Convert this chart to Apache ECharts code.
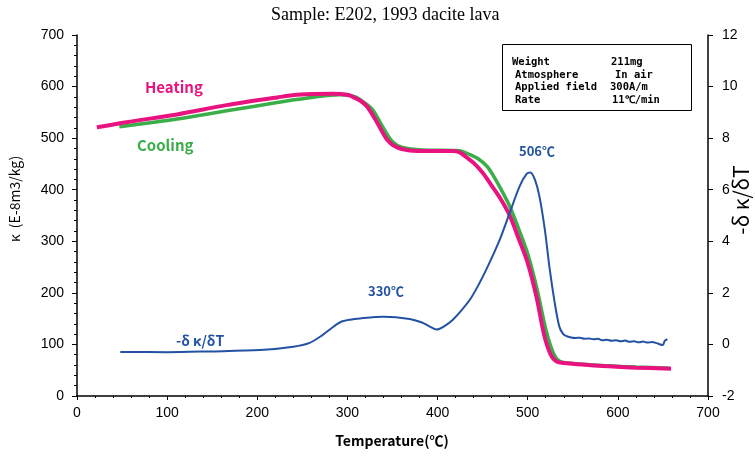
<!DOCTYPE html>
<html><head><meta charset="utf-8">
<script src="https://cdn.jsdelivr.net/npm/echarts@6/dist/echarts.min.js"></script>
<style>html,body{margin:0;padding:0;background:#fff}#c{width:755px;height:456px}</style>
</head><body><div id="c"></div>
<script>
var heatingT = [22,55,111,166,222,244,284,300,306,314,322,333,344,355,369,391,417,425,432,440,450,460,470,480,490,500,510,518,525,532,547,583,620,659];
var heatingK = [521,531,546,564,579,584,586,584,580,573,561,530,497,482,476,475,475,472,463,452,433,408,382,350,305,258,190,120,82,67,63,58,55,53];
var coolingT = [47,111,166,222,244,292,302,310,318,328,339,350,361,383,421,428,436,445,455,462,470,480,490,500,510,520,528,535,550,585,620,658];
var coolingK = [522,537,553,569,575,584,583,579,570,555,522,493,482,477,476,474,468,460,445,427,402,368,324,276,210,130,85,68,63,59,56,54];
var dkdtT = [48,100,147,203,240,258,273,282,292,303,314,340,369,382,391,399,408,417,426,436,445,454,462,469,480,491,499,503,508,513,519,524,530,535,539,543,548,553,558,563,568,573,578,583,588,593,598,603,608,613,618,623,628,633,638,643,647,650,652,655];
var dkdtV = [-0.29,-0.30,-0.27,-0.22,-0.09,0.06,0.38,0.62,0.86,0.96,1.01,1.07,0.99,0.86,0.70,0.58,0.72,0.96,1.30,1.74,2.28,2.90,3.50,4.06,5.10,6.13,6.62,6.67,6.39,5.74,4.45,3.03,1.61,0.70,0.42,0.32,0.27,0.25,0.26,0.22,0.23,0.20,0.22,0.16,0.18,0.14,0.16,0.12,0.15,0.10,0.12,0.08,0.11,0.07,0.09,0.05,0.00,-0.02,0.14,0.20];
var xTicks = [0,700,100];
var leftTicks = [0,700,100];
var rightTicks = [-2,12,2];

function zip(a,b){return a.map(function(v,i){return [v,b[i]];});}
var chart = echarts.init(document.getElementById('c'), null, {renderer:'canvas'});
var axisLbl = {color:'#000', fontFamily:'Liberation Sans', fontSize:14};
var gothic = '"Noto Sans CJK JP", "DejaVu Sans", sans-serif';
var infoStyle = {fill:'#000', font:'bold 10.5px "DejaVu Sans Mono", monospace'};
chart.setOption({
  animation:false,
  backgroundColor:'#fff',
  grid:{left:77, right:47, top:35, bottom:60},
  xAxis:{type:'value', min:xTicks[0], max:xTicks[1], interval:xTicks[2],
    axisLine:{lineStyle:{color:'#000',width:1.5}},
    axisTick:{inside:false,length:4,lineStyle:{color:'#000'}},
    minorTick:{show:true,splitNumber:5,length:2,lineStyle:{color:'#000'}},
    splitLine:{show:false}, axisLabel:Object.assign({margin:10},axisLbl)},
  yAxis:[
    {type:'value', min:leftTicks[0], max:leftTicks[1], interval:leftTicks[2], position:'left',
      axisLine:{show:true,lineStyle:{color:'#000',width:1.5}},
      axisTick:{show:true,length:5,lineStyle:{color:'#000'}},
      minorTick:{show:true,splitNumber:5,length:3,lineStyle:{color:'#000'}},
      splitLine:{show:false}, axisLabel:Object.assign({margin:13},axisLbl)},
    {type:'value', min:rightTicks[0], max:rightTicks[1], interval:rightTicks[2], position:'right',
      axisLine:{show:true,lineStyle:{color:'#000',width:1.5}},
      axisTick:{show:true,length:5,lineStyle:{color:'#000'}},
      splitLine:{show:false}, axisLabel:Object.assign({margin:14},axisLbl)}
  ],
  series:[
    {name:'Cooling', type:'line', yAxisIndex:0, showSymbol:false, smooth:0.3, data:zip(coolingT,coolingK),
      lineStyle:{color:'#3aae48', width:3.5}, z:2},
    {name:'Heating', type:'line', yAxisIndex:0, showSymbol:false, smooth:0.3, data:zip(heatingT,heatingK),
      lineStyle:{color:'#e8137f', width:4}, z:3},
    {name:'dkdT', type:'line', yAxisIndex:1, showSymbol:false, smooth:0.3, data:zip(dkdtT,dkdtV),
      lineStyle:{color:'#2352a3', width:2}, z:4}
  ],
  graphic:[
    {type:'text', left:271, top:6, style:{text:'Sample: E202, 1993 dacite lava', fill:'#000', font:'18px "Liberation Serif", serif'}},
    {type:'text', x:392, y:434, style:{text:'Temperature(℃)', fill:'#000', font:'bold 14px ' + gothic, textAlign:'center'}},
    {type:'text', x:15, y:199, rotation:Math.PI/2, style:{text:'κ  (E-8m3/kg)', fill:'#000', font:'14px ' + gothic, textAlign:'center', textVerticalAlign:'middle'}},
    {type:'text', x:741, y:200, rotation:Math.PI/2, style:{text:'-δ κ/δT', fill:'#000', font:'21px ' + gothic, textAlign:'center', textVerticalAlign:'middle'}},
    {type:'text', x:145, y:80, style:{text:'Heating', fill:'#e8137f', font:'bold 15px ' + gothic}},
    {type:'text', x:137, y:138, style:{text:'Cooling', fill:'#3aae48', font:'bold 15px ' + gothic}},
    {type:'text', x:519, y:145, style:{text:'506℃', fill:'#2352a3', font:'bold 13px ' + gothic}},
    {type:'text', x:368, y:285, style:{text:'330℃', fill:'#2352a3', font:'bold 13px ' + gothic}},
    {type:'text', x:176, y:334, style:{text:'-δ κ/δT', fill:'#2352a3', font:'bold 14px ' + gothic}},
    {type:'rect', shape:{x:502.5, y:44.5, width:189, height:66}, style:{fill:'#fff', stroke:'#000', lineWidth:1}, z:10},
    {type:'text', x:512, y:57, z:11, style:Object.assign({text:'Weight'},infoStyle)},
    {type:'text', x:515, y:70, z:11, style:Object.assign({text:'Atmosphere'},infoStyle)},
    {type:'text', x:515, y:82, z:11, style:Object.assign({text:'Applied field'},infoStyle)},
    {type:'text', x:515, y:95, z:11, style:Object.assign({text:'Rate'},infoStyle)},
    {type:'text', x:611, y:57, z:11, style:Object.assign({text:'211mg'},infoStyle)},
    {type:'text', x:615, y:70, z:11, style:Object.assign({text:'In air'},infoStyle)},
    {type:'text', x:610, y:82, z:11, style:Object.assign({text:'300A/m'},infoStyle)},
    {type:'text', x:612, y:95, z:11, style:Object.assign({text:'11℃/min'},infoStyle)}
  ]
});
</script></body></html>
